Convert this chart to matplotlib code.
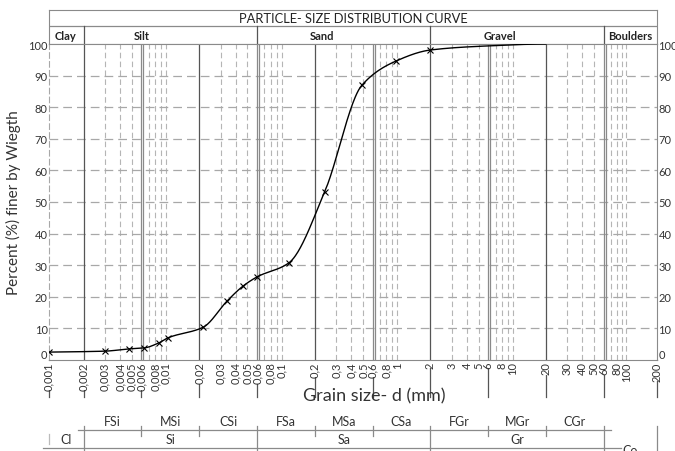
import numpy as np
import matplotlib.pyplot as plt
from matplotlib.transforms import blended_transform_factory

plt.rcParams["font.family"] = ["Lato", "DejaVu Sans"]

# Sieve / hydrometer readings (grain size in mm, percent finer)
grain_mm = [0.001, 0.003, 0.0047, 0.0063, 0.0086, 0.0104, 0.0216, 0.034,
            0.046, 0.06, 0.116, 0.241, 0.49, 0.975, 2.0]
finer_pct = [2.5, 2.8, 3.5, 3.8, 5.4, 7.0, 10.4, 18.7,
             23.4, 26.3, 30.7, 53.2, 87.0, 94.6, 98.1]
# curve goes on without markers into the gravel range
tail_mm = [6, 20]
tail_pct = [99.4, 100]

tick_mm = [0.001, 0.002, 0.003, 0.004, 0.005, 0.006, 0.008, 0.01, 0.02, 0.03,
           0.04, 0.05, 0.06, 0.08, 0.1, 0.2, 0.3, 0.4, 0.5, 0.6, 0.8, 1, 2,
           3, 4, 5, 6, 8, 10, 20, 30, 40, 50, 60, 80, 100, 200]
tick_labels = [f"{v:g}".replace(".", ",") for v in tick_mm]

# class boundaries
bounds = [0.002, 0.006, 0.02, 0.06, 0.2, 0.6, 2, 6, 20, 60]
main_edges = [0.001, 0.002, 0.06, 2, 60, 200]
main_names = ["Clay", "Silt", "Sand", "Gravel", "Boulders"]
main_label_mm = [0.0014, 0.006, 0.23, 7.6, 110]
main_short = ["Cl", "Si", "Sa", "Gr"]
sub_names = ["FSi", "MSi", "CSi", "FSa", "MSa", "CSa", "FGr", "MGr", "CGr"]

# the chart's x axis: each 2-6 and 6-20 step gets half a decade
scale_mm = np.array([1e-9, 0.001, 0.002, 0.006, 0.02, 0.06, 0.2, 0.6, 2, 6, 20, 60, 200, 1e9])
scale_pos = np.array([-6, 0, 0.3, 0.8, 1.3, 1.8, 2.3, 2.8, 3.3, 3.8, 4.3, 4.8, 5.26, 12])


def fwd(x):
    x = np.clip(np.asarray(x, dtype=float), 1e-12, None)
    return np.interp(np.log10(x), np.log10(scale_mm), scale_pos)


def inv(u):
    return 10 ** np.interp(np.asarray(u, dtype=float), scale_pos, np.log10(scale_mm))


def pchip(xk, yk, xs):
    xk = np.asarray(xk, float)
    yk = np.asarray(yk, float)
    h = np.diff(xk)
    d = np.diff(yk) / h
    m = np.zeros_like(yk)
    for i in range(1, len(xk) - 1):
        if d[i - 1] * d[i] > 0:
            w1 = 2 * h[i] + h[i - 1]
            w2 = h[i] + 2 * h[i - 1]
            m[i] = (w1 + w2) / (w1 / d[i - 1] + w2 / d[i])
    m[0] = d[0]
    m[-1] = 0.0
    idx = np.clip(np.searchsorted(xk, xs) - 1, 0, len(h) - 1)
    t = (xs - xk[idx]) / h[idx]
    h00 = 2 * t**3 - 3 * t**2 + 1
    h10 = t**3 - 2 * t**2 + t
    h01 = -2 * t**3 + 3 * t**2
    h11 = t**3 - t**2
    return (h00 * yk[idx] + h10 * h[idx] * m[idx]
            + h01 * yk[idx + 1] + h11 * h[idx] * m[idx + 1])


fig = plt.figure(figsize=(6.75, 4.52), dpi=100)
hd = fig.add_axes([49 / 675, 1 - 45 / 452, 608 / 675, 34 / 452])
ax = fig.add_axes([49 / 675, 1 - 361 / 452, 608 / 675, 316 / 452])

for a in (ax, hd):
    a.set_xscale("function", functions=(fwd, inv))
    a.set_xlim(0.001, 200)
ax.set_ylim(0, 100)

# grid: dashed minor verticals, solid class boundaries
minor = [m * 10.0**k for k in range(-3, 3) for m in (3, 4, 5, 7, 8, 9, 10)]
minor = [v for v in minor if v < 200]
for v in minor:
    ax.axvline(v, color="#b5b5b5", lw=0.8, dashes=(5, 3), zorder=1)
for v in bounds:
    if str(v).lstrip("0.").startswith("2"):
        ax.axvline(v, color="#555555", lw=0.9, zorder=1.5)
    else:
        ax.axvline(v, color="#8a8a8a", lw=0.9, zorder=1.5)
        ax.axvline(v * 1.04, color="#8a8a8a", lw=0.9, zorder=1.5)
for y in range(10, 100, 10):
    ax.axhline(y, color="#a8a8a8", lw=0.9, dashes=(7, 4), zorder=1)

# curve and data points
u_pts = fwd(grain_mm + tail_mm)
u_fine = np.linspace(u_pts[0], u_pts[-1], 600)
ax.plot(inv(u_fine), pchip(u_pts, finer_pct + tail_pct, u_fine),
        color="black", lw=1.0, zorder=3)
ax.plot(grain_mm, finer_pct, "x", color="black", ms=5, mew=0.8, zorder=4)

# axes styling
for side in ("top", "bottom", "right"):
    ax.spines[side].set_color("#8a8a8a")
ax.spines["left"].set_color("#a8a8a8")
ax.spines["left"].set_linestyle((0, (5, 3)))
ax.set_yticks(range(0, 101, 10))
ax.tick_params(axis="y", length=0, labelsize=8, labelcolor="#333333",
               labelright=True, pad=1)
ax.set_xticks(tick_mm, tick_labels)
ax.xaxis.set_minor_locator(plt.NullLocator())
ax.tick_params(axis="x", length=0, labelsize=8, labelcolor="#333333",
               labelrotation=90, pad=1)
for lbl in ax.get_xticklabels():
    lbl.set_bbox(dict(facecolor="white", edgecolor="none", pad=0.2))
# the zero labels sit just above the axis line
ax.yaxis.get_major_ticks()[0].label1.set_va("bottom")
ax.yaxis.get_major_ticks()[0].label2.set_va("bottom")
ax.set_ylabel("Percent (%) finer by Wiegth", fontsize=11, color="#333333",
              labelpad=5)

# boundary lines carried below the axis through the tick labels
below = blended_transform_factory(ax.transData, ax.transAxes)
for v in [0.001] + bounds + [200]:
    ax.plot([v, v], [0, -0.117], color="#555555", lw=0.9, transform=below,
            clip_on=False, zorder=0.5)

fig.text(374 / 675, 1 - 396 / 452, "Grain size- d (mm)", fontsize=13,
         color="#333333", ha="center", va="center")

# header: title row and soil classes
hd.patch.set_alpha(0)
hd.set_ylim(0, 34)
hd.set_xticks([])
hd.set_yticks([])
for s in hd.spines.values():
    s.set_color("#8a8a8a")
hd.axhline(18, color="#8a8a8a", lw=0.9)
for v in main_edges[1:-1]:
    hd.plot([v, v], [0, 18], color="#555555", lw=0.9)
hd.text(0.5, 26, "PARTICLE- SIZE DISTRIBUTION CURVE", fontsize=9.3,
        color="#222222", ha="center", va="center",
        transform=blended_transform_factory(hd.transAxes, hd.transData))
for name, x in zip(main_names, main_label_mm):
    hd.text(x, 9, name, fontsize=8, fontweight="bold", color="#222222",
            ha="center", va="center")

# classification table below the chart
tab = blended_transform_factory(ax.transData, fig.transFigure)
tab_ax = blended_transform_factory(ax.transAxes, fig.transFigure)
mids = lambda a, b: float(inv((fwd(a) + fwd(b)) / 2))
for name, a, b in zip(sub_names, bounds[:-1], bounds[1:]):
    fig.text(mids(a, b), 0.0664, name, transform=tab, fontsize=9,
             color="#333333", ha="center", va="center")
for name, a, b in zip(main_short, main_edges[:-1], main_edges[1:]):
    fig.text(mids(a, b), 0.0265, name, transform=tab, fontsize=9,
             color="#333333", ha="center", va="center")
fig.text(0.9556, 0.003, "Co", transform=tab_ax, fontsize=9, color="#333333",
         ha="center", va="center")
ax.plot([0.0477, 0.924], [0.0465, 0.0465], color="#8a8a8a", lw=0.9,
        transform=tab_ax, clip_on=False)
ax.plot([-0.0099, 0.94], [0.0066, 0.0066], color="#8a8a8a", lw=0.9,
        transform=tab_ax, clip_on=False)
for v in [0.002, 0.06, 2, 60, 200]:
    ax.plot([v, v], [0.0553, 0.0], color="#8a8a8a", lw=0.9, transform=tab,
            clip_on=False)
for v in [0.006, 0.02, 0.2, 0.6, 6, 20]:
    ax.plot([v, v], [0.0553, 0.0332], color="#8a8a8a", lw=0.9, transform=tab,
            clip_on=False)
ax.plot([0.001, 0.001], [0.0376, 0.0155], color="#bbbbbb", lw=0.9,
        transform=tab, clip_on=False)

fig.savefig("out.png", dpi=100)
